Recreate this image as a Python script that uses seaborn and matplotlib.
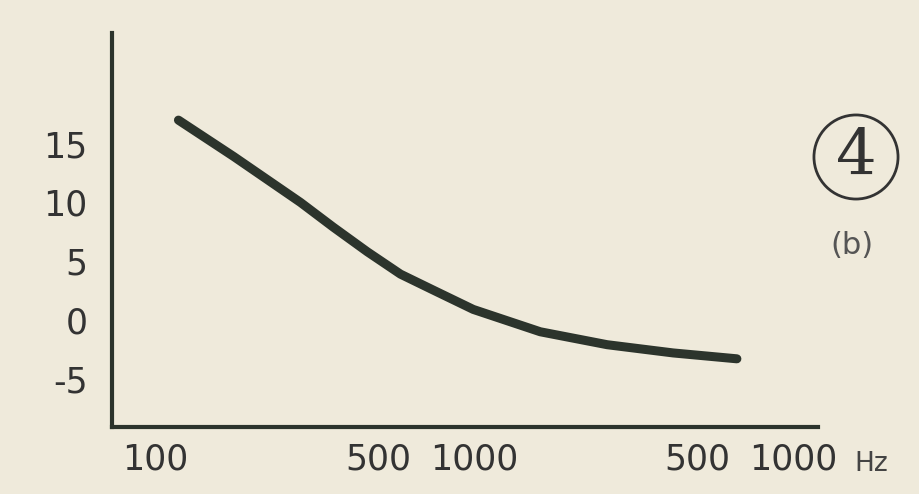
import matplotlib
matplotlib.use("Agg")
import matplotlib.pyplot as plt
import seaborn as sns
import pandas as pd

# curve (frequency in Hz, response in dB)
freq_hz = [118, 176, 285, 361, 462, 587, 743, 993, 1611, 2612, 4207, 6668]
level_db = [17.0, 13.9, 10.0, 7.9, 5.8, 3.9, 2.55, 0.9, -1.0, -2.1, -2.8, -3.3]

# axis ticks as printed
x_ticks = [100, 500, 1000, 5000, 10000]
x_labels = ["100", "500", "1000", "500", "1000"]
y_ticks = [15, 10, 5, 0, -5]
y_labels = ["15", "10", "5", "0", "-5"]

paper = "#efeadb"
ink = "#2c342c"

sns.set_theme(style="white")
plt.rcParams["font.family"] = ["DejaVu Sans"]

df = pd.DataFrame({"freq": freq_hz, "level": level_db})

fig = plt.figure(figsize=(9.2, 4.94), dpi=100, facecolor=paper)
ax = fig.add_axes([0.1217, 0.1356, 0.889 - 0.1217, 0.933 - 0.1356])
ax.set_facecolor(paper)

sns.lineplot(data=df, x="freq", y="level", ax=ax, color=ink, linewidth=6.5,
             solid_capstyle="round", solid_joinstyle="round")

ax.set_xscale("log")
ax.set_xlim(73, 11970)
ax.set_ylim(-9.1, 24.4)
ax.set_xticks(x_ticks, labels=x_labels)
ax.set_yticks(y_ticks, labels=y_labels)
ax.minorticks_off()
ax.set_xlabel("")
ax.set_ylabel("")

for side in ["top", "right"]:
    ax.spines[side].set_visible(False)
for side in ["left", "bottom"]:
    ax.spines[side].set_color(ink)
    ax.spines[side].set_linewidth(3)

ax.tick_params(axis="both", direction="inout", length=7, width=2, color=ink,
               labelsize=25, labelcolor="#333333")
ax.tick_params(axis="y", pad=14)
ax.tick_params(axis="x", pad=8)

# unit after the last tick label
ax.text(1.075, -0.095, "Hz", transform=ax.transAxes, fontsize=19,
        color="#444444", ha="center", va="center")

# panel marker
fig.text(856 / 920, 1 - 157 / 494, "4", fontsize=46, family="DejaVu Serif",
         color="#333333", ha="center", va="center",
         bbox=dict(boxstyle="circle,pad=0.18", facecolor="none",
                   edgecolor="#333333", linewidth=2))
fig.text(852 / 920, 1 - 245 / 494, "(b)", fontsize=22, color="#555555",
         ha="center", va="center")

fig.savefig("out.png", dpi=100, facecolor=paper)
